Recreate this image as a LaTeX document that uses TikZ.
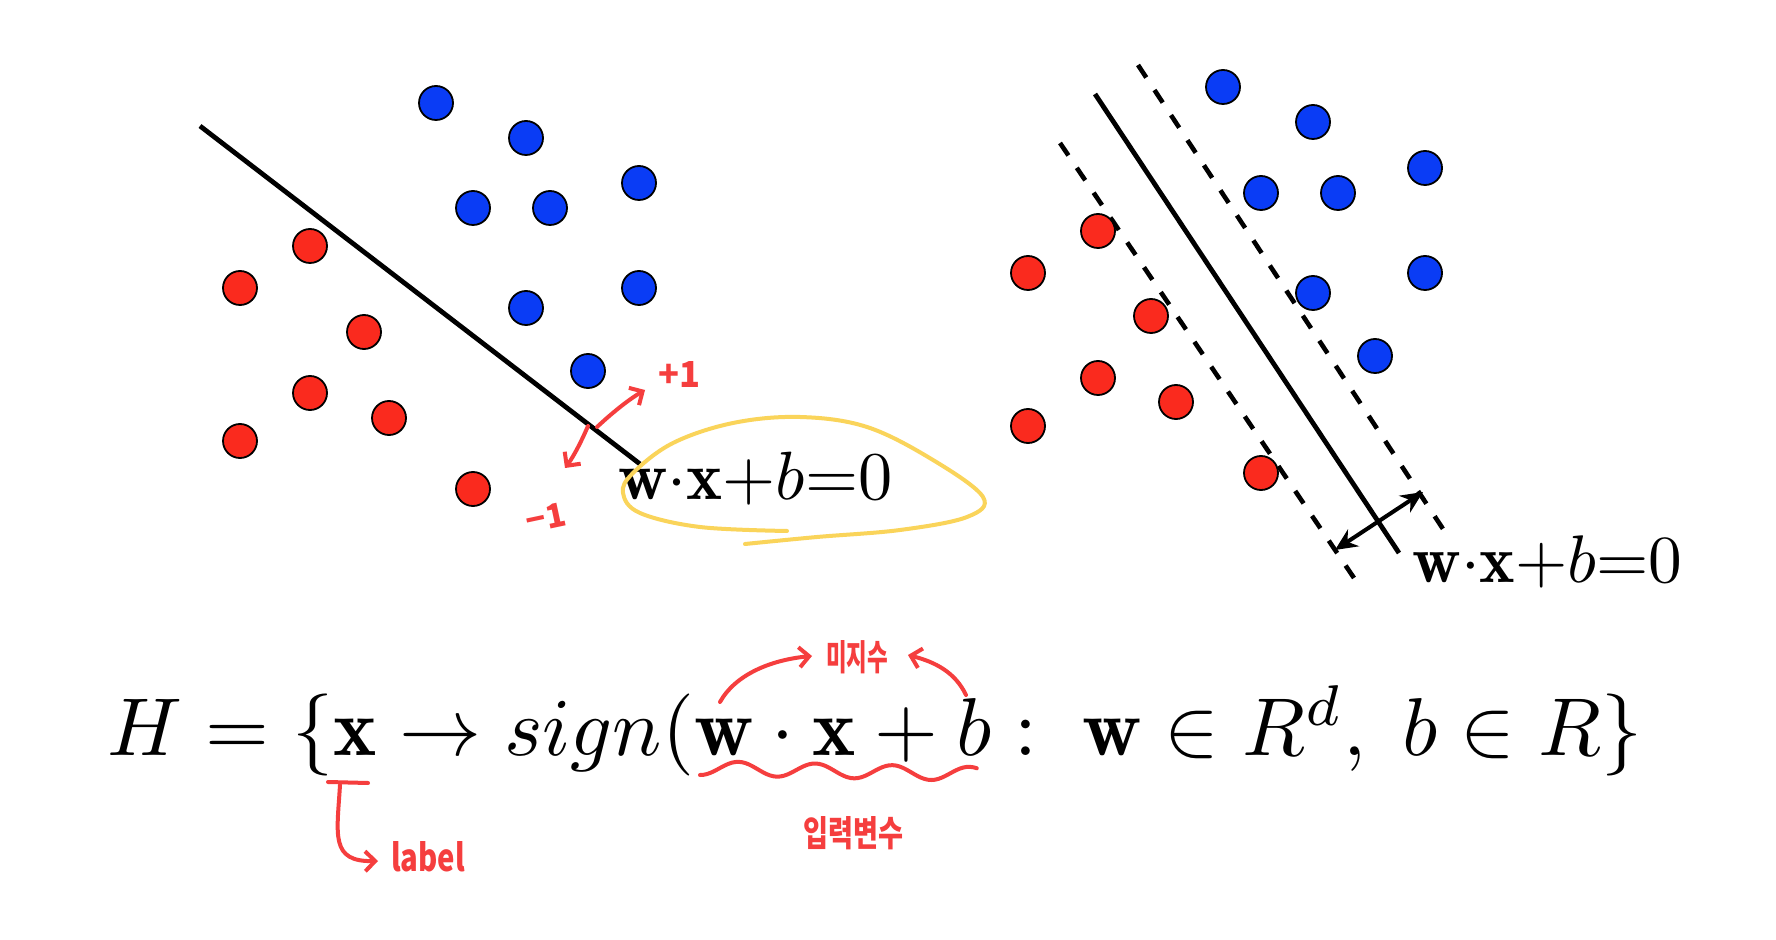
\documentclass[tikz,border=0pt]{standalone}
\usepackage{fontspec}
\newfontfamily\kr{Noto Sans CJK KR}
\usetikzlibrary{arrows.meta}
\definecolor{dotblue}{RGB}{10,60,245}
\definecolor{dotred}{RGB}{250,42,30}
\definecolor{pen}{RGB}{245,62,62}
\definecolor{hl}{RGB}{250,212,90}
\tikzset{
  bdot/.style={circle,draw=black,line width=0.9pt,fill=dotblue,minimum size=17pt,inner sep=0pt},
  rdot/.style={circle,draw=black,line width=0.9pt,fill=dotred,minimum size=17pt,inner sep=0pt},
  hyper/.style={line width=2.4pt},
  marginline/.style={line width=2.3pt,dash pattern=on 7.5pt off 7.5pt},
  penline/.style={draw=pen,line width=2pt,line cap=round,line join=round},
  penarrow/.style={penline,-{Straight Barb[length=5pt,width=10pt,line width=2pt]}},
  pentext/.style={text=pen,inner sep=0pt,font=\kr\bfseries},
  eqlabel/.style={inner sep=0pt,anchor=base west}
}
\begin{document}
\begin{tikzpicture}[x=0.5pt,y=-0.5pt]
\useasboundingbox (0,0) rectangle (1776,940);
\fill[white] (0,0) rectangle (1776,940);

% ---------- left panel ----------
\coordinate (la) at (200,126);
\coordinate (lb) at (640,464);
\draw[hyper] (la) -- (lb);
\node[bdot] (lb1) at (436,103) {};
\node[bdot] (lb2) at (526,138) {};
\node[bdot] (lb3) at (473,208) {};
\node[bdot] (lb4) at (550,208) {};
\node[bdot] (lb5) at (639,183) {};
\node[bdot] (lb6) at (639,288) {};
\node[bdot] (lb7) at (526,308) {};
\node[bdot] (lb8) at (588,371) {};
\node[rdot] (lr1) at (310,246) {};
\node[rdot] (lr2) at (240,288) {};
\node[rdot] (lr3) at (364,332) {};
\node[rdot] (lr4) at (310,393) {};
\node[rdot] (lr5) at (389,418) {};
\node[rdot] (lr6) at (240,441) {};
\node[rdot] (lr7) at (473,489) {};
\node[eqlabel] (leq) at (618,500) {\resizebox{137pt}{!}{$\mathbf{w}{\cdot}\mathbf{x}{+}b{=}0$}};

% ---------- right panel ----------
\coordinate (ra) at (1095,94);
\coordinate (rb) at (1399,553);
\coordinate (da) at (1060,143);
\coordinate (db) at (1354,578);
\coordinate (ea) at (1138,65);
\coordinate (eb) at (1445,532);
\draw[hyper] (ra) -- (rb);
\draw[marginline] (da) -- (db);
\draw[marginline] (ea) -- (eb);
\coordinate (aa) at (1335,550);
\coordinate (ab) at (1423,492);
\draw[line width=2pt,{Stealth[length=11pt,width=10pt]}-{Stealth[length=11pt,width=10pt]}] (aa) -- (ab);
\node[bdot] (rb1) at (1223,87) {};
\node[bdot] (rb2) at (1313,122) {};
\node[bdot] (rb3) at (1425,168) {};
\node[bdot] (rb4) at (1261,193) {};
\node[bdot] (rb5) at (1338,193) {};
\node[bdot] (rb6) at (1425,273) {};
\node[bdot] (rb7) at (1313,293) {};
\node[bdot] (rb8) at (1375,356) {};
\node[rdot] (rr1) at (1098,231) {};
\node[rdot] (rr2) at (1028,273) {};
\node[rdot] (rr3) at (1151,316) {};
\node[rdot] (rr4) at (1098,378) {};
\node[rdot] (rr5) at (1028,426) {};
\node[rdot] (rr6) at (1176,402) {};
\node[rdot] (rr7) at (1261,473) {};
\node[eqlabel] (req) at (1412,582) {\resizebox{135pt}{!}{$\mathbf{w}{\cdot}\mathbf{x}{+}b{=}0$}};

% ---------- formula ----------
\node[inner sep=0pt,anchor=base] (formula) at (875,755) {\resizebox{767pt}{!}{$H=\{\mathbf{x}\rightarrow sign(\mathbf{w}\cdot\mathbf{x}+b:\;\mathbf{w}\in R^{d},\;b\in R\}$}};

% ---------- annotations: left panel ----------
\draw[hl,line width=2pt,line cap=round] plot[smooth,tension=0.6] coordinates {(787,531) (700,527) (640,513) (623,493) (633,473) (673,443) (733,423) (800,417) (867,427) (933,460) (983,497) (967,517) (900,530) (817,537) (745,544)};
\coordinate (up0) at (597,427);
\coordinate (up1) at (645,390);
\coordinate (dn0) at (588,426);
\coordinate (dn1) at (565,468);
\draw[penarrow] (up0) .. controls (612,413) and (628,400) .. (up1);
\draw[penarrow] (dn0) .. controls (582,440) and (574,456) .. (dn1);
\node[pentext] (plus) at (679,375) {\resizebox{21pt}{13pt}{+1}};
\node[pentext,rotate=12] (minus) at (546,518) {\resizebox{20pt}{12pt}{−1}};

% ---------- annotations: formula ----------
\node[pentext] (param) at (857,657) {\resizebox{31pt}{15pt}{미지수}};
\node[pentext] (input) at (853,833) {\resizebox{50pt}{15pt}{입력변수}};
\node[pentext] (lab) at (428,857) {\resizebox{37pt}{15pt}{label}};
\coordinate (wtop) at (720,702);
\coordinate (wend) at (812,656);
\draw[penarrow] (wtop) .. controls (735,675) and (770,660) .. (wend);
\coordinate (btop) at (966,695);
\coordinate (bend) at (908,655);
\draw[penarrow] (btop) .. controls (955,672) and (935,662) .. (bend);
\draw[penline] plot[smooth,domain=0:1,samples=80] ({700+277*\x},{768+7*sin(\x*3.6*360+90)+6*\x});
\coordinate (xb1) at (328,782);
\coordinate (xb2) at (368,783);
\draw[penline] (xb1) -- (xb2);
\coordinate (xv) at (340,785);
\coordinate (xend) at (378,861);
\draw[penarrow] (xv) .. controls (337,835) and (330,862) .. (xend);
\end{tikzpicture}
\end{document}
